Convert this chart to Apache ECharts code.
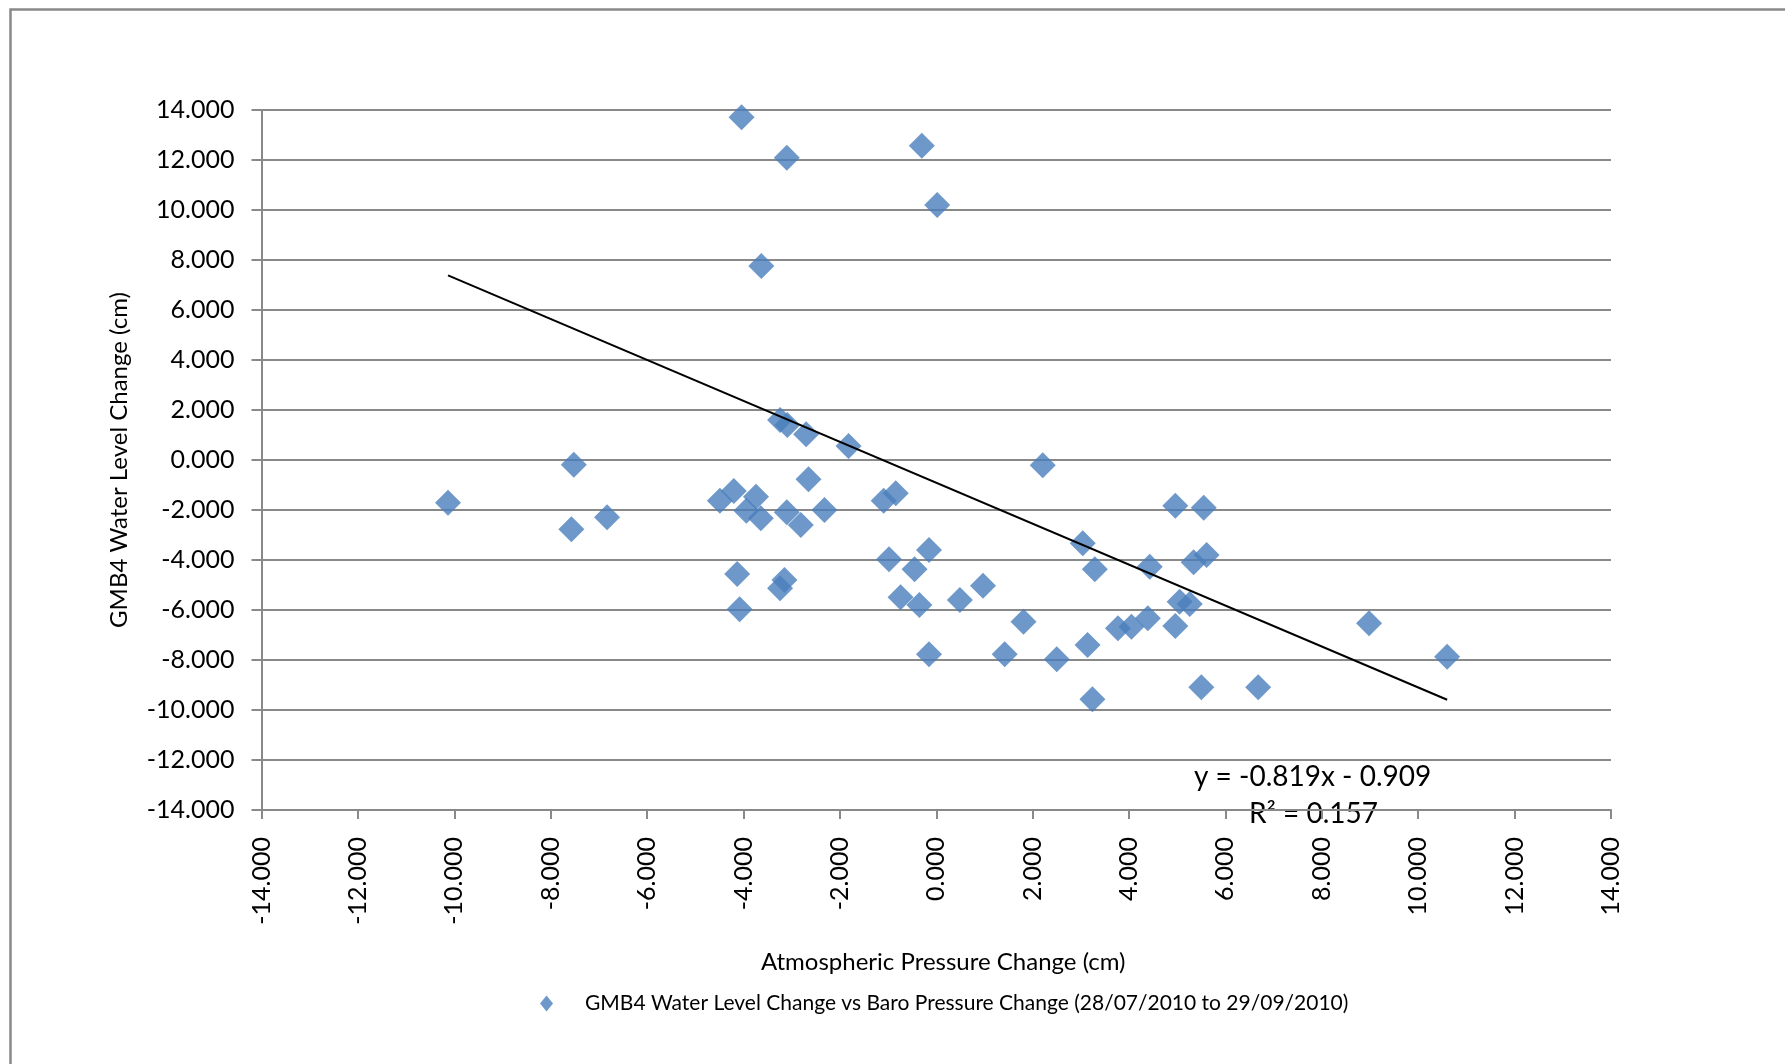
<!DOCTYPE html>
<html>
<head>
<meta charset="utf-8">
<script src="https://cdn.jsdelivr.net/npm/echarts@6/dist/echarts.min.js"></script>
<style>
html,body{margin:0;padding:0;background:#fff;}
#chart{width:1785px;height:1064px;}
</style>
</head>
<body>
<div id="chart"></div>
<script>
// Atmospheric pressure change (cm)
const pressureChange = [
  -10.13, -7.52, -7.57, -6.83, -4.49, -4.20, -3.74, -3.94, -3.64, -3.10,
  -2.81, -2.65, -2.32, -1.09, -0.84, -4.13, -4.08, -3.24, -3.15, -0.98,
  -0.15, -0.45, -0.74, -0.35, 0.49, -0.15, 0.97, 1.42, 1.81, 2.50,
  3.04, 3.29, 3.14, 3.24, 3.77, 4.05, 4.39, 4.43, 4.96, 5.55,
  5.34, 5.61, 5.05, 5.26, 4.96, 5.50, 6.68, 8.98, 10.60, 2.21,
  -4.04, -3.10, -0.30, 0.02, -3.63, -3.24, -3.09, -2.70, -1.82
];
// GMB4 water level change (cm)
const waterLevelChange = [
  -1.71, -0.19, -2.77, -2.29, -1.63, -1.24, -1.47, -2.03, -2.33, -2.09,
  -2.60, -0.77, -2.00, -1.63, -1.33, -4.56, -5.97, -5.13, -4.80, -3.97,
  -3.60, -4.37, -5.49, -5.80, -5.60, -7.77, -5.03, -7.77, -6.47, -7.97,
  -3.33, -4.37, -7.40, -9.57, -6.73, -6.67, -6.33, -4.27, -1.83, -1.91,
  -4.09, -3.80, -5.67, -5.76, -6.64, -9.09, -9.09, -6.53, -7.87, -0.21,
  13.71, 12.09, 12.57, 10.20, 7.76, 1.60, 1.40, 1.03, 0.56
];
// Linear trend line shown on the chart
const trendSlope = -0.819;
const trendIntercept = -0.909;
const trendEquation = 'y = -0.819x - 0.909';
const trendR2 = 'R² = 0.157';
// Axes
const axisMin = -14, axisMax = 14, axisInterval = 2;
const seriesName = 'GMB4 Water Level Change vs Baro Pressure Change (28/07/2010 to 29/09/2010)';
const xTitle = 'Atmospheric Pressure Change (cm)';
const yTitle = 'GMB4 Water Level Change (cm)';

const points = pressureChange.map((x, i) => [x, waterLevelChange[i]]);
const xLo = Math.min(...pressureChange), xHi = Math.max(...pressureChange);
const trend = [[xLo, trendSlope * xLo + trendIntercept], [xHi, trendSlope * xHi + trendIntercept]];

const FONT = 'Lato';
const GRAY = '#898989';
const chart = echarts.init(document.getElementById('chart'), null, {renderer: 'canvas'});
chart.setOption({
  animation: false,
  backgroundColor: '#fff',
  textStyle: {fontFamily: FONT, color: '#000'},
  grid: {left: 261.5, right: 174, top: 110, bottom: 254, containLabel: false},
  xAxis: {
    type: 'value', min: axisMin, max: axisMax, interval: axisInterval,
    name: xTitle, nameLocation: 'middle', nameGap: 140,
    nameTextStyle: {fontFamily: FONT, fontSize: 24, color: '#000', padding: [0, 0, 0, 14]},
    axisLine: {onZero: false, lineStyle: {color: GRAY, width: 2}},
    axisTick: {show: true, length: 9, lineStyle: {color: GRAY, width: 2}},
    splitLine: {show: false},
    axisLabel: {rotate: 90, margin: 27, fontFamily: FONT, fontSize: 25, color: '#000',
      formatter: v => v.toFixed(3)}
  },
  yAxis: {
    type: 'value', min: axisMin, max: axisMax, interval: axisInterval,
    name: yTitle, nameLocation: 'middle', nameGap: 130, nameRotate: 90,
    nameTextStyle: {fontFamily: FONT, fontSize: 24, color: '#000'},
    axisLine: {show: true, onZero: false, lineStyle: {color: GRAY, width: 2}},
    axisTick: {show: true, length: 10, lineStyle: {color: GRAY, width: 2}},
    splitLine: {show: true, lineStyle: {color: GRAY, width: 2}},
    axisLabel: {margin: 27, fontFamily: FONT, fontSize: 25, color: '#000',
      formatter: v => v.toFixed(3)}
  },
  legend: {
    data: [{name: seriesName, icon: 'diamond'}],
    bottom: 45, left: 535,
    itemWidth: 13, itemHeight: 16,
    textStyle: {fontFamily: FONT, fontSize: 21, color: '#000', padding: [0, 0, 0, 27]}
  },
  series: [
    {
      name: seriesName, type: 'scatter', data: points,
      symbol: 'diamond', symbolSize: [26, 26],
      itemStyle: {color: '#4A7EBB'}, z: 3
    },
    {
      name: 'trend', type: 'line', data: trend, showSymbol: false, symbol: 'none',
      lineStyle: {color: '#000', width: 2}, z: 4, silent: true
    }
  ],
  graphic: [
    {type: 'rect', left: 8, top: 7, shape: {width: 1790, height: 1056},
     style: {fill: 'none', stroke: GRAY, lineWidth: 2.5}, silent: true},
    {type: 'text', left: 1194, top: 763, style: {text: trendEquation, font: '28px Lato', fill: '#000'}},
    {type: 'text', left: 1249, top: 800, style: {text: trendR2, font: '28px Lato', fill: '#000'}}
  ]
});
</script>
</body>
</html>
